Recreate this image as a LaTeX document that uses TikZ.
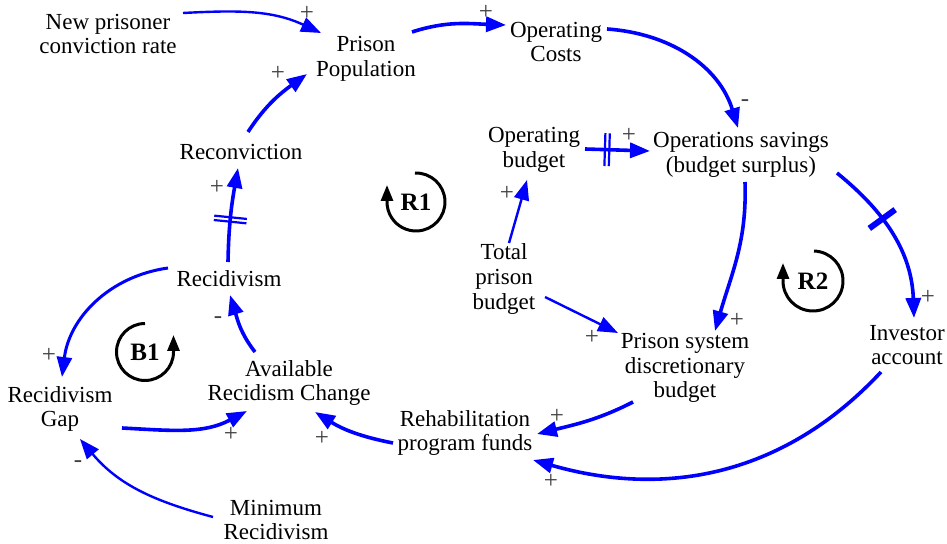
\documentclass[tikz,border=0pt]{standalone}
\usepackage{fontspec}
\setmainfont{Liberation Serif}
\usetikzlibrary{arrows.meta,calc,decorations.markings}

\begin{document}
\begin{tikzpicture}[x=0.5pt,y=0.5pt,
  every node/.style={font=\fontsize{11.5}{12.4}\selectfont},
  var/.style={align=center,inner sep=0pt},
  lnk/.style={blue,line width=1.8pt,-{Triangle[length=10pt,width=7.5pt]}},
  thinlnk/.style={lnk,line width=1.2pt},
  pol/.style={font=\fontsize{12.5}{12.5}\selectfont,text=black!75,inner sep=0pt},
  loopname/.style={font=\fontsize{12.5}{12.5}\selectfont\bfseries,inner sep=0pt},
  looparc/.style={black,line width=1.5pt,-{Triangle[length=8pt,width=6pt]}},
  delaytwo/.style={postaction={decorate},decoration={markings,mark=at position #1 with {
      \draw[blue,line width=1.1pt,-] (-1.1pt,-8.2pt) -- (-1.1pt,8.2pt) (1.1pt,-8.2pt) -- (1.1pt,8.2pt);}}},
  delayone/.style={postaction={decorate},decoration={markings,mark=at position #1 with {
      \draw[blue,line width=3pt,-] (0,-8pt) -- (0,8pt);}}}]
  \useasboundingbox (0,0) rectangle (947,-544);

  % variables
  \node[var] (npcr)  at (108,-34)  {New prisoner\\conviction rate};
  \node[var] (ppop)  at (366,-59)  {Prison\\Population};
  \node[var] (opc)   at (556,-42)  {Operating\\Costs};
  \node[var] (recon) at (241,-152) {Reconviction};
  \node[var] (opb)   at (534,-150) {Operating\\budget};
  \node[var] (ops)   at (741,-155) {Operations savings\\(budget surplus)};
  \node[var] (recid) at (229,-279) {Recidivism};
  \node[var] (tpb)   at (504,-279) {Total\\prison\\budget};
  \node[var] (psd)   at (685,-368) {Prison system\\discretionary\\budget};
  \node[var] (inv)   at (907,-345) {Investor\\account};
  \node[var] (arc)   at (289,-383) {Available\\Recidism Change};
  \node[var] (gap)   at (60,-409)  {Recidivism\\Gap};
  \node[var] (rehab) at (465,-433) {Rehabilitation\\program funds};
  \node[var] (minr)  at (276,-520) {Minimum\\Recidivism};

  % loops
  \node[loopname] (r1) at (416,-202) {R1};
  \node[loopname] (b1) at (145,-352) {B1};
  \node[loopname] (r2) at (813,-281) {R2};
  \draw[looparc] ($(r1)+(92:29)$) arc[start angle=92,end angle=-180,radius=29] -- ++(0,17);
  \draw[looparc] ($(b1)+(90:28.5)$) arc[start angle=90,end angle=360,radius=28.5] -- ++(0,17);
  \draw[looparc] ($(r2)+(88:30)$) arc[start angle=88,end angle=-180,radius=30] -- ++(0,18);

  % links
  \draw[thinlnk] ($(npcr)+(75,21)$) to[out=3,in=155] ($(ppop)+(-45,26)$);
  \draw[lnk] ($(ppop)+(46,27)$) to[out=18,in=178] ($(opc)+(-50,17)$);
  \draw[lnk] ($(opc)+(51,13)$) to[out=-4,in=107] ($(ops)+(-3,27)$);
  \draw[lnk] ($(recon)+(7,20)$) to[out=57,in=216] ($(ppop)+(-59,-15)$);
  \draw[lnk,delaytwo=0.34] ($(opb)+(51,1)$) -- ($(ops)+(-91,4)$);
  \draw[thinlnk] ($(tpb)+(5,36)$) -- ($(opb)+(-7,-30)$);
  \draw[thinlnk] ($(tpb)+(41,-18)$) -- ($(psd)+(-67,35)$);
  \draw[lnk] ($(ops)+(4,-27)$) to[out=-88,in=74] ($(psd)+(30,37)$);
  \draw[lnk,delayone=0.38] ($(ops)+(96,-18)$) to[out=-39,in=92] ($(inv)+(7,27)$);
  \draw[lnk] ($(inv)+(-26,-27)$) to[out=-133,in=-16] ($(rehab)+(68,-27)$);
  \draw[lnk] ($(psd)+(-52,-34)$) to[out=-153,in=14] ($(rehab)+(72,-1)$);
  \draw[lnk] ($(rehab)+(-72,-10)$) to[out=169,in=-32] ($(arc)+(26,-29)$);
  \draw[lnk] ($(gap)+(62,-19)$) to[out=-3,in=208] ($(arc)+(-42,-28)$);
  \draw[thinlnk] ($(minr)+(-63,3)$) to[out=165,in=-50] ($(gap)+(20,-30)$);
  \draw[lnk] ($(arc)+(-34,31)$) to[out=128,in=-73] ($(recid)+(1,-16)$);
  \draw[lnk,delaytwo=0.45] ($(recid)+(-1,17)$) to[out=89,in=-100] ($(recon)+(-3,-16)$);
  \draw[lnk,line width=1.5pt] ($(recid)+(-61,11)$) to[out=188,in=83] ($(gap)+(2,32)$);

  % polarities
  \node[pol] (s1)  at (307,-13)  {+};
  \node[pol] (s2)  at (486,-12)  {+};
  \node[pol] (s3)  at (745,-103) {-};
  \node[pol] (s4)  at (278,-73)  {+};
  \node[pol] (s5)  at (629,-135) {+};
  \node[pol] (s6)  at (507,-193) {+};
  \node[pol] (s7)  at (592,-337) {+};
  \node[pol] (s8)  at (737,-320) {+};
  \node[pol] (s9)  at (928,-297) {+};
  \node[pol] (s10) at (551,-481) {+};
  \node[pol] (s11) at (557,-416) {+};
  \node[pol] (s12) at (322,-438) {+};
  \node[pol] (s13) at (231,-434) {+};
  \node[pol] (s14) at (78,-464)  {-};
  \node[pol] (s15) at (218,-320) {-};
  \node[pol] (s16) at (217,-187) {+};
  \node[pol] (s17) at (49,-355)  {+};
\end{tikzpicture}
\end{document}
